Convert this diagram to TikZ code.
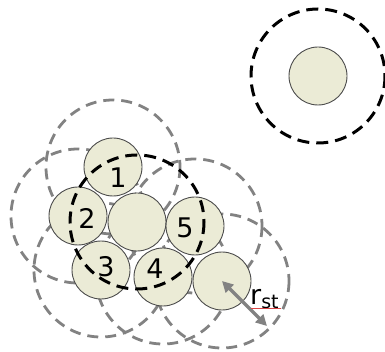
\documentclass[tikz,border=0pt]{standalone}
\usepackage{fontspec}
\setmainfont{DejaVu Sans}
\usetikzlibrary{arrows.meta}
\definecolor{grainfill}{RGB}{235,235,214}
\definecolor{rangegray}{RGB}{130,130,130}
\definecolor{spellred}{RGB}{220,70,70}

\begin{document}
\begin{tikzpicture}[
  x=1pt,y=-1pt,
  grain/.style={circle,draw=black!70,fill=grainfill,minimum size=58pt,inner sep=0pt,line width=0.9pt},
  reach/.style={draw=rangegray,line width=2.8pt,dash pattern=on 11pt off 7pt},
  cutoff/.style={draw=black,line width=3pt,dash pattern=on 12pt off 7pt},
  num/.style={inner sep=0pt,font=\fontsize{27}{30}\selectfont},
  stretch/.style={{Triangle[length=11pt,width=11pt]}-{Triangle[length=11pt,width=11pt]},draw=rangegray,line width=3.5pt}
]
\useasboundingbox (0,0) rectangle (385,352);
% grain centres
\coordinate (c1) at (113,167);
\coordinate (c2) at (78,216);
\coordinate (c0) at (137,222);
\coordinate (c5) at (195,226);
\coordinate (c3) at (101,270);
\coordinate (c4) at (163,277);
\coordinate (c6) at (222,281);
\coordinate (cfree) at (318,76);
% interaction ranges behind the grains
\foreach \c in {c1,c2,c5,c3,c4,c6}
  \draw[reach] (\c) circle[radius=67];
% grains
\node[grain] (g1) at (c1) {};
\node[grain] (g2) at (c2) {};
\node[grain] (g0) at (c0) {};
\node[grain] (g5) at (c5) {};
\node[grain] (g3) at (c3) {};
\node[grain] (g4) at (c4) {};
\node[grain] (g6) at (c6) {};
\node[grain] (gfree) at (cfree) {};
% ranges of the middle grain and the free grain
\draw[cutoff] (g0.center) circle[radius=67];
\draw[cutoff] (gfree.center) circle[radius=67];
% numbers
\node[num] (n1) at (118,178) {1};
\node[num] (n2) at (87,218) {2};
\node[num] (n3) at (106,267) {3};
\node[num] (n4) at (155,269) {4};
\node[num] (n5) at (185,228) {5};
% radius
\coordinate (rtip) at (267,326);
\draw[stretch] (g6.center) -- (rtip);
\node[inner sep=0pt,anchor=base west,font=\fontsize{27}{30}\selectfont] (rlab) at (250,304)
  {r\raisebox{-5pt}{\fontsize{19}{20}\selectfont st}};
\draw[spellred,line width=0.8pt] (251,308) -- (281,308);
\end{tikzpicture}
\end{document}
